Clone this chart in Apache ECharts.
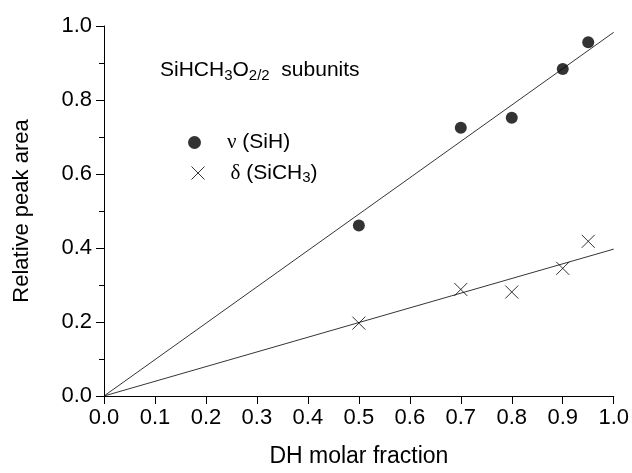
<!DOCTYPE html>
<html><head><meta charset="utf-8">
<script src="https://cdn.jsdelivr.net/npm/echarts@6/dist/echarts.min.js"></script>
<style>html,body{margin:0;padding:0;background:#fff}#c{width:632px;height:473px}</style>
</head><body><div id="c"></div>
<script>
var xSiH = [0.5, 0.7, 0.8, 0.9, 0.95];
var ySiH = [0.461, 0.725, 0.752, 0.884, 0.956];
var xSiCH3 = [0.5, 0.7, 0.8, 0.9, 0.95];
var ySiCH3 = [0.197, 0.288, 0.281, 0.345, 0.418];
var fitSiHX = [0, 1.0];
var fitSiHY = [0, 0.983];
var fitSiCH3X = [0, 1.0];
var fitSiCH3Y = [0, 0.397];

function pairs(xs, ys){ return xs.map(function(x,i){return [x, ys[i]];}); }

var chart = echarts.init(document.getElementById('c'));
var font = 'Liberation Sans, Arial, sans-serif';
var serif = 'Liberation Serif, Times New Roman, serif';
var crossPath = 'path://M0,0L10,10M10,0L0,10';
function legendStyle(){
  return {color:'#000', fontSize:21, fontFamily:font, padding:[0,0,0,21],
    rich:{g:{fontSize:21, fontFamily:serif, color:'#000', lineHeight:24},
          t:{fontSize:21, fontFamily:font, color:'#000', lineHeight:24},
          s:{fontSize:15, fontFamily:font, color:'#000', lineHeight:24, padding:[9,0,0,0]}}};
}
chart.setOption({
  animation:false,
  backgroundColor:'#fff',
  grid:{left:104, right:18, top:26, bottom:72, containLabel:false},
  xAxis:{type:'value', min:0, max:1, interval:0.1,
    name:'DH molar fraction', nameLocation:'middle', nameGap:49,
    nameTextStyle:{color:'#000', fontSize:23, fontFamily:font},
    axisLine:{onZero:false, lineStyle:{color:'#000', width:1}},
    axisTick:{show:true, inside:false, length:8, lineStyle:{color:'#000'}},
    axisLabel:{color:'#000', fontSize:22, fontFamily:font, margin:11, showMaxLabel:true,
      formatter:function(v){return v.toFixed(1);}},
    splitLine:{show:false}},
  yAxis:{type:'value', min:0, max:1, interval:0.2,
    name:'Relative peak area', nameLocation:'middle', nameGap:71,
    nameTextStyle:{color:'#000', fontSize:22, fontFamily:font},
    axisLine:{show:true, onZero:false, lineStyle:{color:'#000', width:1}},
    axisTick:{show:true, inside:false, length:8, lineStyle:{color:'#000'}},
    minorTick:{show:true, splitNumber:2, length:5, lineStyle:{color:'#000'}},
    axisLabel:{color:'#000', fontSize:22, fontFamily:font, margin:12,
      formatter:function(v){return v.toFixed(1);}},
    splitLine:{show:false}},
  legend:[
    {left:183, top:127, itemWidth:13, itemHeight:13,
     data:[{name:'nu', icon:'circle'}],
     formatter:function(){ return '{g|ν} {t|(SiH)}'; },
     textStyle:legendStyle()},
    {left:184, top:156, itemWidth:13, itemHeight:13,
     data:[{name:'delta', icon:crossPath, itemStyle:{color:'none', borderColor:'#000', borderWidth:1}}],
     formatter:function(){ return '{g|δ} {t|(SiCH}{s|3}{t|)}'; },
     textStyle:legendStyle()}
  ],
  graphic:[{type:'text', left:160, top:58, style:{
    text:'{t|SiHCH}{s|3}{t|O}{s|2/2}{t|  subunits}', fill:'#000',
    rich:{t:{fontSize:21, fontFamily:font, fill:'#000', lineHeight:24},
          s:{fontSize:15, fontFamily:font, fill:'#000', lineHeight:24, padding:[10,0,0,0]}}}}],
  series:[
    {name:'fit1', type:'line', data:pairs(fitSiHX, fitSiHY), symbol:'none', silent:true,
      lineStyle:{color:'#000', width:0.8}},
    {name:'fit2', type:'line', data:pairs(fitSiCH3X, fitSiCH3Y), symbol:'none', silent:true,
      lineStyle:{color:'#000', width:0.8}},
    {name:'nu', type:'scatter', data:pairs(xSiH, ySiH), symbol:'circle', symbolSize:12,
      itemStyle:{color:'#000'}},
    {name:'delta', type:'scatter', data:pairs(xSiCH3, ySiCH3), symbol:crossPath, symbolSize:13,
      itemStyle:{color:'none', borderColor:'#000', borderWidth:1}}
  ]
});
</script></body></html>
